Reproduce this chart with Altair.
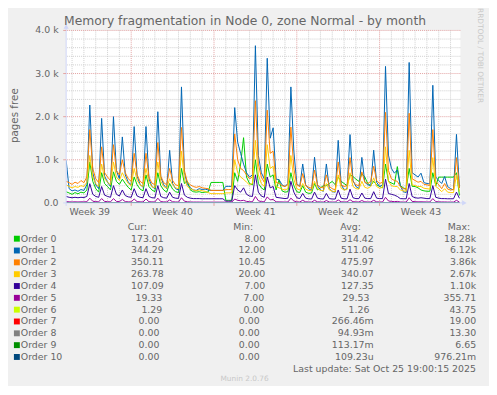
import altair as alt
import pandas as pd

# ---------------- legend / series metadata ----------------
names = ["Order 0", "Order 1", "Order 2", "Order 3", "Order 4", "Order 5",
         "Order 6", "Order 7", "Order 8", "Order 9", "Order 10"]
colors = ["#00CC00", "#0066B3", "#FF8000", "#FFCC00", "#330099", "#990099",
          "#CCFF00", "#FF0000", "#808080", "#008F00", "#00487D"]
cur_vals = ["173.01", "344.29", "350.11", "263.78", "107.09", "19.33",
            "1.29", "0.00", "0.00", "0.00", "0.00"]
min_vals = ["8.00", "12.00", "10.45", "20.00", "7.00", "7.00",
            "0.00", "0.00", "0.00", "0.00", "0.00"]
avg_vals = ["314.42", "511.06", "475.97", "340.07", "127.35", "29.53",
            "1.26", "266.46m", "94.93m", "113.17m", "109.23u"]
max_vals = ["18.28k", "6.12k", "3.86k", "2.67k", "1.10k", "355.71",
            "43.75", "19.00", "13.30", "6.65", "976.21m"]

title_text = "Memory fragmentation in Node 0, zone Normal - by month"
y_title = "pages free"
last_update = "Last update: Sat Oct 25 19:00:15 2025"
footer = "Munin 2.0.76"
watermark = "RRDTOOL / TOBI OETIKER"

y_ticks = [0, 1000, 2000, 3000, 4000]
y_tick_labels = ["0.0", "1.0 k", "2.0 k", "3.0 k", "4.0 k"]
week_label_pos = [2, 9, 16, 23, 30]
week_labels = ["Week 39", "Week 40", "Week 41", "Week 42", "Week 43"]
week_bounds = [5.5, 12.5, 19.5, 26.5]
x_span_days = 400 / 12

# ---------------- series values: one sample every 6 hours ----------------
order0 = [260, 230, 200, 240, 210, 250, 230, 300, 950, 500, 330, 250, 700, 450, 380, 300,
          720, 500, 430, 550, 450, 360, 300, 600, 420, 320, 280, 650, 380, 300, 260, 700,
          400, 300, 250, 450, 320, 260, 240, 800, 450, 500, 300, 260, 250, 260, 240, 250,
          250, 475, 475, 475, 475, 475, 60, 60, 60, 700, 500, 900, 1513, 600, 450, 420,
          1000, 450, 350, 300, 900, 600, 650, 300, 537, 280, 250, 260, 700, 400, 260, 240,
          400, 250, 220, 230, 450, 300, 350, 400, 400, 450, 500, 420, 600, 500, 450, 400,
          650, 613, 550, 500, 674, 600, 450, 400, 500, 420, 380, 350, 900, 500, 461, 430,
          842, 400, 350, 320, 800, 384, 380, 350, 300, 280, 270, 270, 700, 400, 598, 598,
          598, 598, 598, 598, 700, 173]
order1 = [990, 330, 280, 300, 270, 310, 290, 420, 2270, 700, 420, 330, 1960, 620, 480, 380,
          2000, 750, 560, 1530, 650, 480, 420, 1770, 620, 430, 360, 1770, 560, 380, 330, 2115,
          600, 420, 330, 1220, 450, 330, 300, 2690, 700, 430, 350, 300, 290, 330, 310, 320,
          300, 290, 290, 290, 290, 290, 384, 384, 384, 2210, 1410, 1150, 900, 700, 600, 650,
          3646, 1100, 700, 560, 3355, 1500, 1740, 550, 540, 420, 380, 450, 2690, 1200, 450, 380,
          903, 420, 330, 290, 1060, 400, 300, 270, 903, 330, 260, 250, 1451, 430, 300, 330,
          1585, 520, 380, 330, 1056, 480, 420, 400, 1223, 480, 380, 420, 3166, 1109, 800, 690,
          766, 400, 260, 240, 3257, 700, 650, 600, 690, 470, 450, 440, 2728, 600, 520, 450,
          613, 380, 330, 300, 1589, 344]
order2 = [500, 470, 430, 480, 450, 520, 470, 600, 1700, 800, 560, 470, 1300, 700, 600, 520,
          1350, 750, 650, 1000, 700, 560, 500, 1150, 650, 500, 450, 1150, 600, 460, 420, 1400,
          620, 470, 420, 800, 520, 420, 400, 1750, 750, 480, 420, 380, 360, 380, 350, 340,
          330, 290, 290, 290, 290, 290, 309, 309, 309, 1600, 1000, 800, 750, 650, 560, 600,
          2370, 900, 600, 480, 2150, 1150, 1200, 480, 450, 400, 380, 420, 1760, 800, 420, 380,
          680, 400, 360, 340, 760, 420, 360, 350, 650, 380, 330, 300, 950, 420, 380, 400,
          1050, 500, 420, 400, 720, 480, 450, 500, 850, 520, 450, 480, 2100, 750, 560, 520,
          500, 380, 330, 320, 2080, 560, 520, 480, 500, 430, 420, 400, 1700, 500, 420, 330,
          450, 320, 300, 310, 1050, 350]
order3 = [420, 380, 350, 380, 360, 400, 380, 480, 1100, 600, 450, 380, 900, 560, 480, 420,
          950, 600, 520, 700, 560, 450, 400, 800, 520, 420, 380, 800, 480, 380, 350, 950,
          500, 380, 340, 560, 420, 350, 330, 1200, 550, 380, 330, 300, 280, 300, 280, 270,
          240, 215, 215, 215, 215, 215, 233, 233, 233, 1000, 700, 600, 550, 480, 420, 450,
          1450, 650, 450, 380, 1350, 800, 850, 380, 350, 320, 300, 330, 1100, 550, 330, 300,
          450, 320, 290, 280, 500, 330, 290, 280, 450, 300, 270, 260, 650, 340, 300, 310,
          700, 380, 330, 320, 500, 360, 340, 380, 580, 380, 340, 360, 1300, 500, 400, 380,
          380, 300, 280, 270, 1220, 420, 400, 380, 380, 340, 330, 320, 1050, 380, 330, 260,
          330, 250, 240, 240, 650, 264]
order4 = [150, 130, 120, 130, 120, 130, 125, 150, 446, 200, 150, 130, 380, 180, 150, 130,
          400, 200, 160, 300, 170, 140, 130, 330, 160, 130, 120, 330, 150, 120, 115, 400,
          150, 120, 110, 250, 130, 110, 105, 450, 180, 130, 110, 100, 100, 100, 95, 96,
          96, 96, 96, 96, 96, 96, 41, 41, 41, 400, 300, 250, 350, 200, 160, 150,
          651, 250, 160, 130, 600, 350, 380, 130, 120, 110, 100, 110, 500, 250, 120, 100,
          220, 110, 95, 90, 250, 110, 95, 90, 220, 100, 90, 90, 300, 110, 95, 95,
          320, 120, 100, 100, 230, 110, 100, 100, 260, 110, 100, 100, 550, 217, 200, 180,
          150, 100, 96, 96, 450, 150, 120, 110, 120, 110, 100, 100, 400, 130, 110, 100,
          100, 96, 96, 96, 250, 107]
order5 = [30, 25, 22, 25, 22, 25, 24, 28, 110, 40, 30, 25, 100, 35, 28, 25,
          100, 35, 30, 80, 30, 25, 24, 90, 30, 25, 22, 90, 28, 24, 22, 110,
          30, 24, 22, 70, 26, 22, 20, 120, 40, 26, 22, 20, 20, 20, 18, 18,
          18, 18, 18, 18, 18, 18, 18, 18, 18, 90, 60, 50, 60, 35, 28, 26,
          150, 50, 30, 25, 140, 70, 80, 25, 24, 22, 20, 22, 110, 45, 25, 22,
          60, 25, 22, 20, 60, 25, 22, 20, 55, 22, 20, 20, 70, 25, 22, 22,
          75, 28, 24, 22, 55, 25, 22, 22, 60, 25, 22, 22, 130, 45, 35, 30,
          35, 22, 20, 20, 120, 35, 28, 25, 26, 24, 22, 22, 100, 30, 25, 22,
          22, 20, 20, 20, 60, 19]
order6 = [1, 1, 1, 1, 1, 1, 1, 1, 4, 2, 1, 1, 3, 1, 1, 1,
          3, 1, 1, 2, 1, 1, 1, 3, 1, 1, 1, 3, 1, 1, 1, 3,
          1, 1, 1, 2, 1, 1, 1, 4, 2, 1, 1, 1, 1, 1, 1, 1,
          1, 1, 1, 1, 1, 1, 1, 1, 1, 3, 2, 2, 3, 1, 1, 1,
          5, 2, 1, 1, 4, 2, 2, 1, 1, 1, 1, 1, 3, 1, 1, 1,
          2, 1, 1, 1, 2, 1, 1, 1, 2, 1, 1, 1, 2, 1, 1, 1,
          2, 1, 1, 1, 2, 1, 1, 1, 2, 1, 1, 1, 4, 2, 1, 1,
          1, 1, 1, 1, 4, 1, 1, 1, 1, 1, 1, 1, 3, 1, 1, 1,
          1, 1, 1, 1, 2, 1]
order7 = [0, 0, 0, 0, 0, 0, 0, 0, 2, 0, 0, 0, 1, 0, 0, 0,
          1, 0, 0, 0, 0, 0, 0, 1, 0, 0, 0, 1, 0, 0, 0, 1,
          0, 0, 0, 0, 0, 0, 0, 2, 0, 0, 0, 0, 0, 0, 0, 0,
          0, 0, 0, 0, 0, 0, 0, 0, 0, 1, 0, 0, 1, 0, 0, 0,
          3, 0, 0, 0, 2, 0, 0, 0, 0, 0, 0, 0, 1, 0, 0, 0,
          0, 0, 0, 0, 0, 0, 0, 0, 0, 0, 0, 0, 0, 0, 0, 0,
          0, 0, 0, 0, 0, 0, 0, 0, 0, 0, 0, 0, 2, 0, 0, 0,
          0, 0, 0, 0, 2, 0, 0, 0, 0, 0, 0, 0, 1, 0, 0, 0,
          0, 0, 0, 0, 0, 0]
order8 = [0, 0, 0, 0, 0, 0, 0, 0, 1, 0, 0, 0, 0, 0, 0, 0,
          0, 0, 0, 0, 0, 0, 0, 0, 0, 0, 0, 0, 0, 0, 0, 0,
          0, 0, 0, 0, 0, 0, 0, 1, 0, 0, 0, 0, 0, 0, 0, 0,
          0, 0, 0, 0, 0, 0, 0, 0, 0, 0, 0, 0, 0, 0, 0, 0,
          1, 0, 0, 0, 1, 0, 0, 0, 0, 0, 0, 0, 0, 0, 0, 0,
          0, 0, 0, 0, 0, 0, 0, 0, 0, 0, 0, 0, 0, 0, 0, 0,
          0, 0, 0, 0, 0, 0, 0, 0, 0, 0, 0, 0, 1, 0, 0, 0,
          0, 0, 0, 0, 1, 0, 0, 0, 0, 0, 0, 0, 0, 0, 0, 0,
          0, 0, 0, 0, 0, 0]
order9 = [0, 0, 0, 0, 0, 0, 0, 0, 1, 0, 0, 0, 0, 0, 0, 0,
          0, 0, 0, 0, 0, 0, 0, 0, 0, 0, 0, 0, 0, 0, 0, 0,
          0, 0, 0, 0, 0, 0, 0, 1, 0, 0, 0, 0, 0, 0, 0, 0,
          0, 0, 0, 0, 0, 0, 0, 0, 0, 0, 0, 0, 0, 0, 0, 0,
          1, 0, 0, 0, 1, 0, 0, 0, 0, 0, 0, 0, 0, 0, 0, 0,
          0, 0, 0, 0, 0, 0, 0, 0, 0, 0, 0, 0, 0, 0, 0, 0,
          0, 0, 0, 0, 0, 0, 0, 0, 0, 0, 0, 0, 1, 0, 0, 0,
          0, 0, 0, 0, 1, 0, 0, 0, 0, 0, 0, 0, 0, 0, 0, 0,
          0, 0, 0, 0, 0, 0]
order10 = [0, 0, 0, 0, 0, 0, 0, 0, 0, 0, 0, 0, 0, 0, 0, 0,
           0, 0, 0, 0, 0, 0, 0, 0, 0, 0, 0, 0, 0, 0, 0, 0,
           0, 0, 0, 0, 0, 0, 0, 0, 0, 0, 0, 0, 0, 0, 0, 0,
           0, 0, 0, 0, 0, 0, 0, 0, 0, 0, 0, 0, 0, 0, 0, 0,
           0, 0, 0, 0, 0, 0, 0, 0, 0, 0, 0, 0, 0, 0, 0, 0,
           0, 0, 0, 0, 0, 0, 0, 0, 0, 0, 0, 0, 0, 0, 0, 0,
           0, 0, 0, 0, 0, 0, 0, 0, 0, 0, 0, 0, 0, 0, 0, 0,
           0, 0, 0, 0, 0, 0, 0, 0, 0, 0, 0, 0, 0, 0, 0, 0,
           0, 0, 0, 0, 0, 0]

series = [order0, order1, order2, order3, order4, order5,
          order6, order7, order8, order9, order10]
N = len(order0)
days = [i / 4 for i in range(N)]  # 6-hour sampling grid

# ---------------- styling constants ----------------
FONT = "DejaVu Sans"
FC = "#666666"
GRID = "#cfcfcf"
MGRID = "#e3a3a3"
AXIS = "#CFD6F8"
W, H = 400, 175

xs = alt.Scale(domain=[0, x_span_days], nice=False, zero=False)
ys = alt.Scale(domain=[0, 4000], nice=False, zero=True)
rs = alt.Scale(domain=[0, 10], range=[211.3, 331.3], nice=False, zero=False)

one = pd.DataFrame({"a": [0]})


def label(text, x, y, **kw):
    opts = dict(font=FONT, fontSize=9.5, color=FC)
    opts.update(kw)
    return alt.Chart(pd.DataFrame({"t": [text]})).mark_text(**opts).encode(
        text="t:N", x=alt.value(x), y=alt.value(y))


layers = []

# grid
day_lines = [0.5 + k for k in range(33)]
xminor = pd.DataFrame({"day": [d for d in day_lines if d not in week_bounds]})
xmajor = pd.DataFrame({"day": week_bounds})
y_minor = pd.DataFrame({"v": [200 * k for k in range(1, 20) if k % 5]})
y_major = pd.DataFrame({"v": y_ticks[1:]})
layers.append(alt.Chart(xminor).mark_rule(color=GRID, strokeDash=[1, 1], strokeWidth=1)
              .encode(x=alt.X("day:Q", scale=xs, axis=None)))
layers.append(alt.Chart(y_minor).mark_rule(color=GRID, strokeDash=[1, 1], strokeWidth=1)
              .encode(y=alt.Y("v:Q", scale=ys, axis=None)))
layers.append(alt.Chart(xmajor).mark_rule(color=MGRID, strokeDash=[1, 1], strokeWidth=1)
              .encode(x=alt.X("day:Q", scale=xs, axis=None)))
layers.append(alt.Chart(y_major).mark_rule(color=MGRID, strokeDash=[1, 1], strokeWidth=1)
              .encode(y=alt.Y("v:Q", scale=ys, axis=None)))

# data lines
for name, col, vals in zip(names, colors, series):
    d = pd.DataFrame({"day": days, "v": vals})
    layers.append(alt.Chart(d).mark_line(color=col, strokeWidth=1, strokeJoin="round", clip=True)
                  .encode(x=alt.X("day:Q", scale=xs, axis=None),
                          y=alt.Y("v:Q", scale=ys, axis=None)))

# axes
layers.append(alt.Chart(one).mark_rule(color=AXIS, strokeWidth=1)
              .encode(x=alt.value(-3), x2=alt.value(403), y=alt.value(H)))
layers.append(alt.Chart(one).mark_rule(color=AXIS, strokeWidth=1)
              .encode(x=alt.value(0), y=alt.value(H + 3), y2=alt.value(-3)))
layers.append(alt.Chart(one).mark_point(shape="triangle-right", filled=True, size=28, color=AXIS, opacity=1)
              .encode(x=alt.value(404), y=alt.value(H)))
layers.append(alt.Chart(one).mark_point(shape="triangle-up", filled=True, size=28, color=AXIS, opacity=1)
              .encode(x=alt.value(0), y=alt.value(-4)))
layers.append(alt.Chart(xmajor).mark_rule(color=MGRID, strokeWidth=1)
              .encode(x=alt.X("day:Q", scale=xs, axis=None), y=alt.value(H), y2=alt.value(H + 3)))
layers.append(alt.Chart(y_major).mark_rule(color=MGRID, strokeWidth=1)
              .encode(y=alt.Y("v:Q", scale=ys, axis=None), x=alt.value(-3), x2=alt.value(0)))

# tick labels
yt = pd.DataFrame({"v": y_ticks, "lab": y_tick_labels})
layers.append(alt.Chart(yt).mark_text(font=FONT, fontSize=9.5, color=FC, align="right", baseline="middle")
              .encode(x=alt.value(-7.7), y=alt.Y("v:Q", scale=ys, axis=None), text="lab:N"))
wk = pd.DataFrame({"day": week_label_pos, "lab": week_labels})
layers.append(alt.Chart(wk).mark_text(font=FONT, fontSize=9.5, color=FC, align="center", baseline="middle")
              .encode(x=alt.X("day:Q", scale=xs, axis=None), y=alt.value(184.7), text="lab:N"))

# titles
layers.append(label(title_text, 181.5, -5, fontSize=12.5, align="center", baseline="alphabetic"))
layers.append(label(y_title, -51.6, 86.5, fontSize=10.5, angle=270, align="center", baseline="middle"))
layers.append(label(watermark, 420, 25.5, fontSize=7.5, angle=90, align="center",
                    baseline="middle", color="#c8c8c8"))

# legend table
hdr_y = 199.3
layers.append(label("Cur:", 82, hdr_y, align="right", baseline="middle"))
layers.append(label("Min:", 189.7, hdr_y, align="right", baseline="middle"))
layers.append(label("Avg:", 299, hdr_y, align="right", baseline="middle"))
layers.append(label("Max:", 410, hdr_y, align="right", baseline="middle"))


def pad(s):
    return s if s[-1] in "kmu" else s + "\u2005"


leg = pd.DataFrame({
    "row": list(range(len(names))),
    "name": names,
    "cur": cur_vals,
    "mn": min_vals,
    "avg": [pad(s) for s in avg_vals],
    "mx": [pad(s) for s in max_vals],
})
ry = alt.Y("row:Q", scale=rs, axis=None)
layers.append(alt.Chart(leg).mark_square(size=36, opacity=1)
              .encode(x=alt.value(-50), y=ry,
                      color=alt.Color("name:N", scale=alt.Scale(domain=names, range=colors), legend=None)))
layers.append(alt.Chart(leg).mark_text(font=FONT, fontSize=9.5, color=FC, align="left", baseline="middle")
              .encode(x=alt.value(-46), y=ry, text="name:N"))

# justified columns: rows groups (0-4, 5-6, 7-10) sit at slightly different right edges
groups = [("datum.row <= 4", {"cur": 99, "mn": 202, "avg": 312.1, "mx": 416}),
          ("datum.row >= 5 && datum.row <= 6", {"cur": 97.5, "mn": 201, "avg": 307.6, "mx": 416}),
          ("datum.row >= 7", {"cur": 94.6, "mn": 196.3, "avg": 312, "mx": 416})]
for cond, xpos in groups:
    for field in ["cur", "mn", "avg", "mx"]:
        layers.append(alt.Chart(leg).transform_filter(cond)
                      .mark_text(font=FONT, fontSize=9.5, color=FC, align="right", baseline="middle")
                      .encode(x=alt.value(xpos[field]), y=ry, text=f"{field}:N"))

layers.append(label(last_update, 415.7, 343.5, align="right", baseline="middle"))
layers.append(label(footer, 181, 353.8, fontSize=7.5, align="center", baseline="middle", color="#c8c8c8"))

chart = (alt.layer(*layers)
         .resolve_scale(y="independent")
         .properties(width=W, height=H,
                     autosize=alt.AutoSizeParams(type="none"),
                     padding={"left": 59, "top": 20, "right": 29, "bottom": 183},
                     background="#F0F0F0")
         .configure_view(fill="white", strokeWidth=0))

chart.save("out.html", embed_options={"renderer": "svg", "actions": False})
